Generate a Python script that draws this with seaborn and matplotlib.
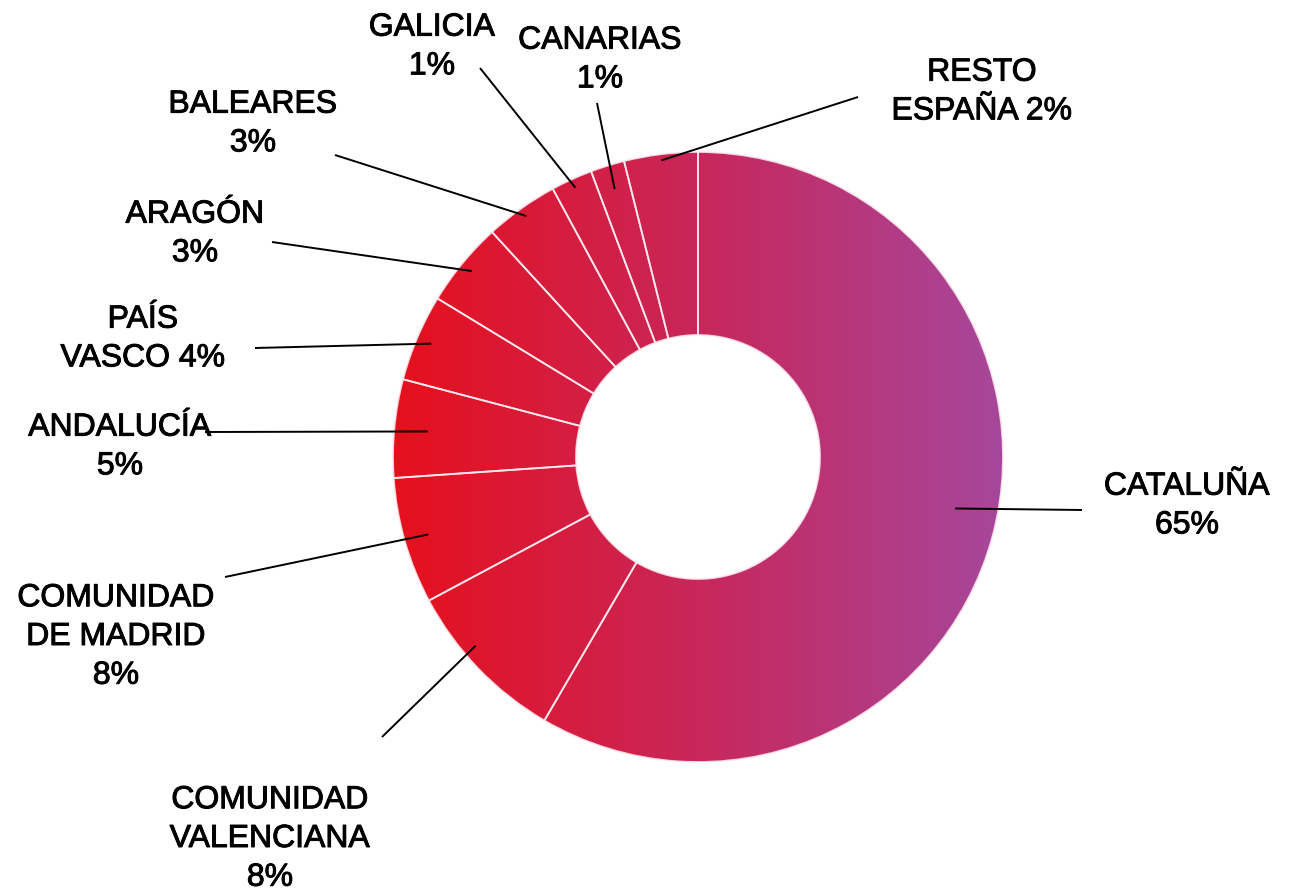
"""Donut chart: regional share, red-to-purple gradient ring with leader-line labels."""

import matplotlib

matplotlib.use("Agg")

import matplotlib.patheffects as pe
import matplotlib.pyplot as plt
import numpy as np
import seaborn as sns


# slice shares (clockwise from 12 o'clock)
REGIONS = [
    "Cataluña",
    "Comunidad Valenciana",
    "Comunidad de Madrid",
    "Andalucía",
    "País Vasco",
    "Aragón",
    "Baleares",
    "Galicia",
    "Canarias",
    "Resto España",
]
SHARES = [58.4, 8.8, 6.7, 5.2, 4.6, 4.5, 3.9, 2.2, 1.8, 3.9]
LABELS = [
    "CATALUÑA\n65%",
    "COMUNIDAD\nVALENCIANA\n8%",
    "COMUNIDAD\nDE MADRID\n8%",
    "ANDALUCÍA\n5%",
    "PAÍS\nVASCO 4%",
    "ARAGÓN\n3%",
    "BALEARES\n3%",
    "GALICIA\n1%",
    "CANARIAS\n1%",
    "RESTO\nESPAÑA 2%",
]

# layout (pixel coords, measured from the top-left corner)
W, H = 1292, 891
CENTER = (698, 457)
RADIUS = 305
HOLE = 0.4
LABEL_POS = [
    (1187, 506), (270, 839), (116, 637), (120, 447), (143, 339),
    (195, 234), (253, 124), (432, 47), (600, 60), (982, 92),
]
LEADER_END = [
    (1082, 510), (382, 737), (225, 577), (205, 432), (255, 348),
    (272, 242), (335, 155), (480, 68), (597, 103), (858, 97),
]
LEADER_R = [0.86, 0.956, 0.92, 0.89, 0.95, 0.96, 0.97, 0.97, 0.92, 0.98]
LEADER_DANGLE = [3.8, -3.6, 0, 0, 0, 0, 0, 0, 0, 0]
GRADIENT = ["#e6101c", "#c8275a", "#a6479b"]


def flip(point):
    return point[0], H - point[1]


def main():
    sns.set_theme(style="white")
    plt.rcParams["font.family"] = ["Liberation Sans", "DejaVu Sans"]

    fig = plt.figure(figsize=(W / 100, H / 100), dpi=100)
    ax = fig.add_axes([0, 0, 1, 1])

    cx, cy = flip(CENTER)
    wedges, _ = ax.pie(
        SHARES,
        radius=RADIUS,
        center=(cx, cy),
        startangle=90,
        counterclock=False,
        wedgeprops=dict(width=RADIUS * (1 - HOLE), facecolor="none",
                        edgecolor=(1, 0.92, 0.95, 0.85), linewidth=1.3),
    )

    cmap = sns.blend_palette(GRADIENT, as_cmap=True)
    grad = np.linspace(0, 1, 600)[None, :]
    for wedge in wedges:
        im = ax.imshow(
            grad, cmap=cmap, aspect="auto", zorder=0.5, interpolation="bilinear",
            extent=(cx - RADIUS, cx + RADIUS, cy - RADIUS, cy + RADIUS),
        )
        im.set_clip_path(wedge)

    stroke = [pe.withStroke(linewidth=0.7, foreground="black")]
    for wedge, label, pos, end, rfrac, dang in zip(
        wedges, LABELS, LABEL_POS, LEADER_END, LEADER_R, LEADER_DANGLE
    ):
        mid = np.deg2rad((wedge.theta1 + wedge.theta2) / 2 + dang)
        start = (cx + rfrac * RADIUS * np.cos(mid), cy + rfrac * RADIUS * np.sin(mid))
        ex, ey = flip(end)
        ax.plot([start[0], ex], [start[1], ey], color="black", linewidth=1.4,
                solid_capstyle="butt", zorder=3)
        tx, ty = flip(pos)
        ax.text(tx, ty, label, ha="center", va="center", fontsize=23,
                linespacing=1.38, color="black", zorder=4, path_effects=stroke)

    ax.set_xlim(0, W)
    ax.set_ylim(0, H)
    ax.set_aspect("equal")
    ax.axis("off")
    fig.savefig("out.png", dpi=100, facecolor="white")
    plt.close(fig)


if __name__ == "__main__":
    main()
